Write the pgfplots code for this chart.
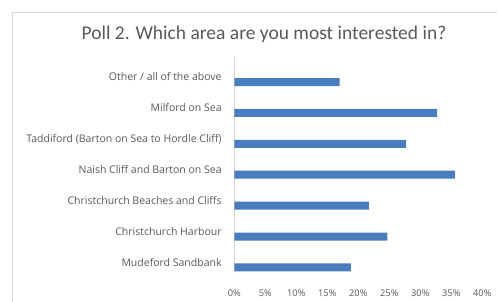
\documentclass[border=0pt]{standalone}
\usepackage{pgfplots}
\pgfplotsset{compat=1.18}
\usepackage{fontspec}
\setmainfont{Carlito}
\newfontfamily\labfont{Open Sans}
\definecolor{txt}{HTML}{595959}
\definecolor{barblue}{HTML}{4A7CC0}
\definecolor{frame}{HTML}{D9D9D9}
\begin{document}
\begin{tikzpicture}
\path[use as bounding box] (0,0) rectangle (498bp,302bp);
\draw[frame, line width=0.8bp] (12bp,0) -- (12bp,290bp) -- (497bp,290bp);
\node[txt, font=\fontsize{19.5bp}{22bp}\selectfont] at (264bp,268bp) {Poll 2. Which area are you most interested in?};
\begin{axis}[
  at={(234.3bp,29bp)}, anchor=south west,
  scale only axis, width=248bp, height=216bp,
  xbar, bar width=8bp,
  xmin=0, xmax=40, ymin=-0.18, ymax=6.81,
  xtick={0,5,...,40},
  ytick={0,...,6},
  yticklabels={Mudeford Sandbank, Christchurch Harbour, Christchurch Beaches and Cliffs, Naish Cliff and Barton on Sea, Taddiford (Barton on Sea to Hordle Cliff), Milford on Sea, Other / all of the above},
  xticklabel={\pgfmathprintnumber{\tick}\%},
  /pgf/number format/assume math mode=true,
  major tick length=0pt,
  axis lines*=left,
  x axis line style={draw=none},
  y axis line style={draw=frame, line width=0.8bp},
  tick label style={txt},
  xticklabel style={font=\labfont\fontsize{9.3bp}{11bp}\selectfont, anchor=center, inner sep=0pt, yshift=-20bp},
  yticklabel style={font=\labfont\fontsize{10.5bp}{12bp}\selectfont, anchor=east, inner sep=0pt, xshift=-12.5bp, yshift=5bp},
  clip=false,
]
\addplot[fill=barblue, draw=none] coordinates {
  (18.8,0) (24.7,1) (21.7,2) (35.6,3) (27.7,4) (32.7,5) (17,6)
};
\end{axis}
\end{tikzpicture}
\end{document}
